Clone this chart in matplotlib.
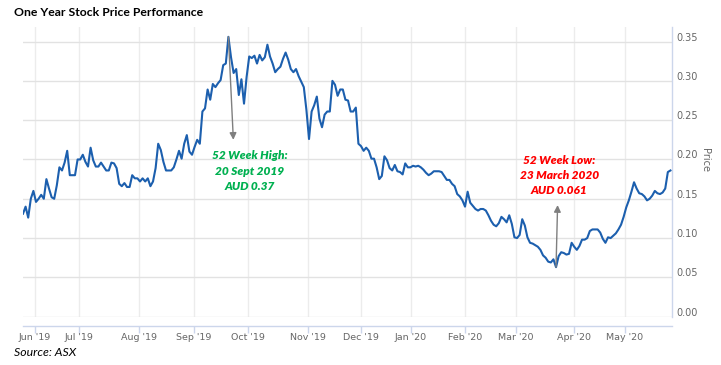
import matplotlib
matplotlib.use('Agg')
import matplotlib.pyplot as plt
import matplotlib.transforms as mtransforms
import numpy as np

# ---- data (one value per trading day) ----
prices = [
    0.131, 0.140, 0.126, 0.150, 0.160, 0.146, 0.150, 0.155, 0.150, 0.175,
    0.163, 0.152, 0.150, 0.167, 0.190, 0.186, 0.196, 0.211, 0.180, 0.180,
    0.180, 0.200, 0.200, 0.206, 0.197, 0.191, 0.215, 0.199, 0.191, 0.191,
    0.196, 0.191, 0.186, 0.186, 0.196, 0.195, 0.189, 0.169, 0.166, 0.170,
    0.165, 0.165, 0.180, 0.176, 0.176, 0.172, 0.176, 0.172, 0.176, 0.166,
    0.172, 0.189, 0.220, 0.212, 0.197, 0.186, 0.186, 0.186, 0.190, 0.200,
    0.211, 0.201, 0.220, 0.231, 0.210, 0.206, 0.216, 0.225, 0.220,
    0.261, 0.265, 0.289, 0.276, 0.296, 0.292, 0.297, 0.301, 0.320, 0.322,
    0.356, 0.330, 0.310, 0.315, 0.282, 0.302, 0.271, 0.305, 0.331, 0.329,
    0.332, 0.322, 0.333, 0.326, 0.330, 0.346, 0.331, 0.322, 0.311, 0.315,
    0.318, 0.328, 0.336, 0.327, 0.315, 0.311, 0.315, 0.306, 0.299, 0.292,
    0.263, 0.226, 0.261, 0.269, 0.280, 0.252, 0.241, 0.257, 0.261, 0.261,
    0.300, 0.295, 0.281, 0.289, 0.289, 0.276, 0.275, 0.261, 0.261, 0.266,
    0.220, 0.217, 0.211, 0.215, 0.211, 0.201, 0.201,
    0.190, 0.175, 0.179, 0.204, 0.199, 0.189, 0.186, 0.193, 0.185, 0.184,
    0.181, 0.195, 0.190, 0.190, 0.192, 0.191, 0.192, 0.190, 0.187, 0.183,
    0.180, 0.182, 0.185, 0.185, 0.185, 0.184, 0.179, 0.174, 0.174, 0.169,
    0.166, 0.156, 0.153, 0.148, 0.140, 0.159, 0.145, 0.141, 0.137, 0.135,
    0.137, 0.137, 0.135, 0.129, 0.122, 0.117, 0.115, 0.119, 0.127, 0.124,
    0.120, 0.129, 0.118, 0.101, 0.100, 0.104, 0.124, 0.116, 0.101, 0.094,
    0.093, 0.091, 0.089, 0.085, 0.078, 0.075, 0.070,
    0.069, 0.073, 0.063, 0.077, 0.082, 0.081, 0.079, 0.080, 0.094, 0.089,
    0.085, 0.090, 0.098, 0.098, 0.100, 0.109, 0.111, 0.111, 0.111, 0.107,
    0.099, 0.094, 0.101, 0.100, 0.103, 0.106, 0.111, 0.117, 0.127, 0.139,
    0.148, 0.159, 0.171, 0.163, 0.157, 0.156, 0.153, 0.148, 0.150, 0.154,
    0.160, 0.157, 0.156, 0.158, 0.163, 0.184, 0.186,
]
month_labels = ["Jun '19", "Jul '19", "Aug '19", "Sep '19", "Oct '19", "Nov '19",
                "Dec '19", "Jan '20", "Feb '20", "Mar '20", "Apr '20", "May '20"]
month_starts = [4.5, 21.7, 44.5, 65.7, 86.6, 109.5, 129.9, 149.2, 169.9, 189.6, 211.8, 231.5]
y_ticks = [0.00, 0.05, 0.10, 0.15, 0.20, 0.25, 0.30, 0.35]

high_lines = ["52 Week High:", "20 Sept 2019", "AUD 0.37"]
low_lines = ["52 Week Low:", "23 March 2020", "AUD 0.061"]

# ---- figure ----
W, H = 721, 365
fig = plt.figure(figsize=(W / 100, H / 100), dpi=100)
ax = fig.add_axes([23 / W, 1 - 316.7 / H, (672 - 23) / W, (316.7 - 27) / H])

x = np.arange(len(prices))
ax.plot(x, prices, color='#1c5fae', lw=1.5, solid_joinstyle='round', zorder=3)
ax.set_xlim(0, 249.6)
ax.set_ylim(0, 0.3685)

# grid
ax.set_yticks(y_ticks)
ax.set_yticklabels([f"{v:.2f}" for v in y_ticks])
ax.set_xticks(month_starts)
ax.set_xticklabels(month_labels)
ax.grid(axis='y', color='#e2e2e2', lw=1)
ax.grid(axis='x', color='#ececec', lw=1)
ax.set_axisbelow(True)

# spines
for s in ['top', 'left']:
    ax.spines[s].set_visible(False)
ax.spines['right'].set_color('#ccd6eb')
ax.spines['right'].set_linewidth(1)
ax.spines['bottom'].set_position(('outward', 6.5))
ax.spines['bottom'].set_color('#ccd6eb')
ax.spines['bottom'].set_linewidth(1)

ax.yaxis.tick_right()
ax.tick_params(axis='y', length=0, pad=3, labelsize=7, labelcolor='#666666')
ax.tick_params(axis='x', length=5, width=1, color='#ccd6eb', pad=0.5,
               labelsize=6.8, labelcolor='#666666')

offset = mtransforms.ScaledTranslation(0, 5 / 100, fig.dpi_scale_trans)
for lbl in ax.get_yticklabels():
    lbl.set_transform(lbl.get_transform() + offset)

ax.yaxis.set_label_position('right')
ax.set_ylabel('Price', rotation=270, fontsize=7, color='#666666', va='center')
ax.yaxis.set_label_coords((705 - 23) / 649, (316.7 - 159.7) / 289.7)

# annotations
hi = int(np.argmax(prices))
lo = int(np.argmin(prices))
arrow = dict(arrowstyle='-|>', color='#7f7f7f', lw=1, mutation_scale=10,
             shrinkA=0, shrinkB=0)
ax.annotate('', xy=(hi + 1.9, prices[hi] - 0.131), xytext=(hi, prices[hi]),
            arrowprops=arrow, zorder=4)
ax.annotate('', xy=(lo + 0.6, prices[lo] + 0.079), xytext=(lo, prices[lo]),
            arrowprops=arrow, zorder=4)

fam = ['Lato', 'DejaVu Sans']
for txt, yy in zip(high_lines, [155.7, 171.7, 187.0]):
    fig.text(250 / W, 1 - yy / H, txt, ha='center', va='center', color='#00b050',
             fontsize=8.6, fontweight='heavy', fontstyle='italic', family=fam)
for txt, yy in zip(low_lines, [160.0, 175.5, 191.0]):
    fig.text(559.3 / W, 1 - yy / H, txt, ha='center', va='center', color='#ff0000',
             fontsize=8.6, fontweight='heavy', fontstyle='italic', family=fam)

fig.text(14 / W, 1 - 12 / H, 'One Year Stock Price Performance', ha='left', va='center',
         fontsize=8.8, fontweight='bold', color='#000000', family=fam)
fig.text(14 / W, 1 - 352 / H, 'Source: ASX', ha='left', va='center',
         fontsize=8.8, fontstyle='italic', color='#000000', family=fam)

fig.savefig('out.png', dpi=100, facecolor='white')
